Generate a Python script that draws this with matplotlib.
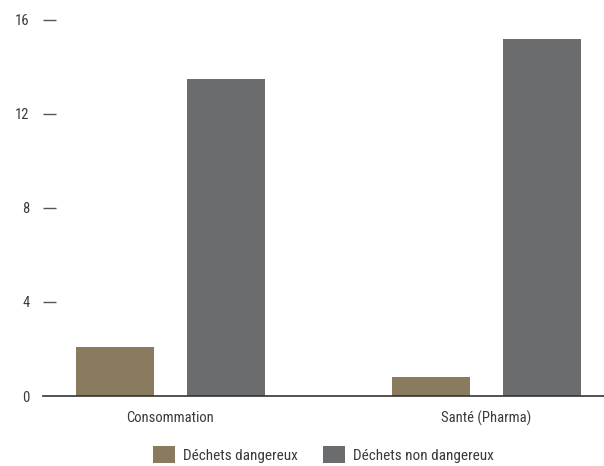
import matplotlib
matplotlib.use("Agg")
import matplotlib.pyplot as plt
import numpy as np

plt.rcParams['font.family'] = ['Roboto Condensed', 'Liberation Sans Narrow', 'Roboto', 'DejaVu Sans']

categories = ["Consommation", "Santé (Pharma)"]
series_names = ["Déchets dangereux", "Déchets non dangereux"]
dangerous = [2.1, 0.8]
non_dangerous = [13.5, 15.2]
y_ticks = [0, 4, 8, 12, 16]

colors = ["#8A7B5E", "#6B6C6E"]
text_color = "#3A3A3A"
font_size = 10.5
legend_size = 11

fig = plt.figure(figsize=(6.04, 4.66), dpi=100)
ax = fig.add_axes([43 / 604, (466 - 396) / 466, 1 - 43 / 604, 396 / 466])

x = np.arange(len(categories))
offset = 0.1756
width = 0.247
ax.bar(x - offset, dangerous, width, color=colors[0], label=series_names[0])
ax.bar(x + offset, non_dangerous, width, color=colors[1], label=series_names[1])

ax.set_xlim(-0.4035, 1.372)
ax.set_ylim(0, 16.84)

for side in ("top", "right", "left"):
    ax.spines[side].set_visible(False)
ax.spines["bottom"].set_color("#333333")
ax.spines["bottom"].set_linewidth(1.2)

ax.set_xticks(x)
ax.set_xticklabels(categories)
ax.tick_params(axis="x", length=0, pad=10.5, labelsize=font_size, labelcolor=text_color)

ax.set_yticks(y_ticks)
ax.set_yticklabels([str(v) for v in y_ticks])
ax.tick_params(axis="y", direction="in", length=9.4, width=1.0, color="#555555",
               pad=9.5, labelsize=font_size, labelcolor=text_color)
# the zero tick sits on the baseline, so hide its dash
ax.yaxis.get_major_ticks()[0].tick1line.set_visible(False)

fig.legend(loc="center", bbox_to_anchor=(323.5 / 604, 0.0247), ncol=2,
           frameon=False, fontsize=legend_size, labelcolor=text_color,
           handlelength=1.44, handleheight=1.37, handletextpad=0.55,
           columnspacing=1.63, borderpad=0)

fig.savefig("out.png", dpi=100)
